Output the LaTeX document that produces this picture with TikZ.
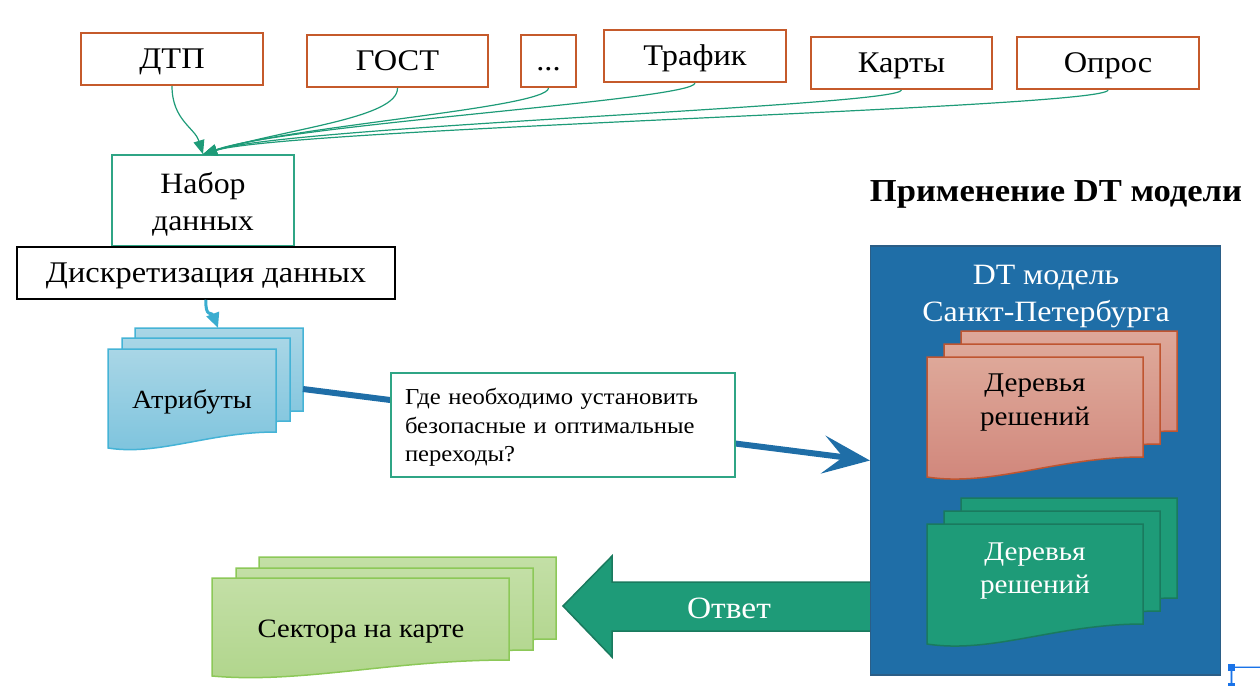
\documentclass[tikz,border=0pt]{standalone}
\usepackage{fontspec}
\setmainfont{Liberation Serif}[FakeStretch=1.08]
\usetikzlibrary{arrows.meta}
\definecolor{orng}{HTML}{C55A2B}
\definecolor{grn}{HTML}{1E9B78}
\definecolor{grnb}{HTML}{2FA585}
\definecolor{blu}{HTML}{1F6EA7}
\definecolor{bluedge}{HTML}{2B5E87}
\definecolor{cyanarr}{HTML}{3AADD0}
\definecolor{lbtop}{HTML}{A9D6E6}
\definecolor{lbbot}{HTML}{7CC3DD}
\definecolor{lbedge}{HTML}{45B3D6}
\definecolor{rdtop}{HTML}{DEA899}
\definecolor{rdbot}{HTML}{D0857A}
\definecolor{rdedge}{HTML}{BF5530}
\definecolor{gdedge}{HTML}{1A7A5E}
\definecolor{lgtop}{HTML}{C3DFA6}
\definecolor{lgbot}{HTML}{B0D58B}
\definecolor{lgedge}{HTML}{8CC858}
\definecolor{selblue}{HTML}{1A73E8}
\newcommand{\docsheet}[6]{\path[#6] (#1,#2) -- ({#1+#3},#2) -- ({#1+#3},{#2+#4}) .. controls ({#1+0.6*#3},{#2+#4}) and ({#1+0.3*#3},{#2+#4+1.5*#5}) .. (#1,{#2+#4+#5}) -- cycle;}
\tikzset{
  capc/.style={text height=#1, text depth=0pt},
  srcbox/.style={draw=orng, line width=2, minimum height=52, capc=19.8pt, font=\fontsize{30}{36}\selectfont},
  feed/.style={grn, line width=1.2, -{Triangle[length=14pt,width=11pt]}},
  attrsheet/.style={draw=lbedge, line width=1.5, top color=lbtop, bottom color=lbbot},
  redsheet/.style={draw=rdedge, line width=1.5, top color=rdtop, bottom color=rdbot},
  grnsheet/.style={draw=gdedge, line width=1.5, fill=grn},
  lgsheet/.style={draw=lgedge, line width=1.5, top color=lgtop, bottom color=lgbot},
  lbl/.style={align=center, inner sep=0},
}
\begin{document}
\begin{tikzpicture}[x=1pt,y=-1pt]
\useasboundingbox (0,0) rectangle (1260,686);
% source boxes
\node[srcbox, minimum width=182] (dtp) at (172,59) {ДТП};
\node[srcbox, minimum width=181] (gost) at (397.5,61) {ГОСТ};
\node[srcbox, minimum width=55] (dots) at (548.5,61) {...};
\node[srcbox, minimum width=182] (traf) at (695,56) {Трафик};
\node[srcbox, minimum width=181] (kart) at (901.5,63) {Карты};
\node[srcbox, minimum width=182] (opr) at (1108,63) {Опрос};
% dataset
\node[draw=grnb, line width=1.5, minimum width=182, minimum height=91] (nabor) at (203,200.5) {};
\node[lbl, font=\fontsize{29.5}{37.7}\selectfont] (nabortxt) at (203,204.6) {\strut Набор\\\strut данных};
\node[draw=black, line width=1.5, minimum width=378, minimum height=52, capc=19.8pt,
  font=\fontsize{30}{36}\selectfont] (disc) at (206,273) {Дискретизация данных};
% feeds
\draw[feed] (dtp.south) .. controls (172,120) and (195,128) .. (nabor.north);
\draw[feed] (gost.south) .. controls (398,118) and (290,128) .. (nabor.north);
\draw[feed] (dots.south) .. controls (548,108) and (290,126) .. (nabor.north);
\draw[feed] (traf.south) .. controls (695,100) and (290,124) .. (nabor.north);
\draw[feed] (kart.south) .. controls (901,106) and (290,126) .. (nabor.north);
\draw[feed] (opr.south) .. controls (1108,108) and (290,128) .. (nabor.north);
% attributes stack
\docsheet{135}{328}{168}{83}{16}{attrsheet}
\docsheet{122}{338}{168}{83}{16}{attrsheet}
\docsheet{108}{349}{168}{83}{16}{attrsheet}
\node[lbl, capc=17.3pt, font=\fontsize{26.2}{30}\selectfont] (attr) at (192,400) {Атрибуты};
\coordinate (attrtop) at (218,328);
\coordinate (attrE) at (303,389);
\draw[cyanarr, line width=3, -{Triangle[length=15pt,width=13pt]}] (disc.south) .. controls (205,318) and (212,312) .. (attrtop);
% title
\node[lbl, capc=21.1pt, font=\bfseries\fontsize{32}{38}\selectfont] (title) at (1056,190.7) {Применение DT модели};
% DT model box
\node[draw=bluedge, line width=1.5, fill=blu, minimum width=350, minimum height=429] (dtbox) at (1045.7,460.5) {};
\node[lbl, white, font=\fontsize{29.5}{37.5}\selectfont] (dttitle) at (1046,295.3) {\strut DT модель\\\strut Санкт-Петербурга};
\docsheet{961}{331}{216}{100}{20}{redsheet}
\docsheet{944}{344}{216}{100}{20}{redsheet}
\docsheet{927}{357}{216}{100}{20}{redsheet}
\node[lbl, font=\fontsize{27}{33.3}\selectfont] (redtxt) at (1035,401.7) {\strut Деревья\\\strut решений};
\docsheet{961}{498}{216}{100}{20}{grnsheet}
\docsheet{944}{511}{216}{100}{20}{grnsheet}
\docsheet{927}{524}{216}{100}{20}{grnsheet}
\node[lbl, white, font=\fontsize{27}{33.3}\selectfont] (grntxt) at (1035,570) {\strut Деревья\\\strut решений};
% thick connector
\draw[blu, line width=6, -{Stealth[length=47pt,width=38pt,inset=20pt]}] (attrE) -- (dtbox.west);
\node[draw=grnb, fill=white, line width=1.5, minimum width=344, minimum height=104] (q) at (563,425) {};
\node[inner sep=0, text width=318, align=left, font=\fontsize{22.8}{28.3}\selectfont] (qtxt) at (564,427.6)
  {\strut Где необходимо установить\\безопасные и оптимальные\\\strut переходы?};
% answer arrow
\path[draw=gdedge, line width=1.5, fill=grn] (dtbox.west |- 0,582) -- (612,582) -- (612,556) -- (563,606) -- (612,657) -- (612,631) -- (dtbox.west |- 0,631);
\node[lbl, capc=20.5pt, white, font=\fontsize{31}{36}\selectfont] (otv) at (729,608) {Ответ};
% sectors stack
\docsheet{259}{557}{297}{82}{16}{lgsheet}
\docsheet{236}{568}{297}{82}{16}{lgsheet}
\docsheet{212}{578}{297}{82}{16}{lgsheet}
\node[lbl, capc=17.5pt, font=\fontsize{26.5}{30}\selectfont] (sect) at (361,628.5) {Сектора на карте};
% selection handle marks
\draw[selblue!40, line width=2.5] (1235,667) -- (1260,667);
\draw[selblue, line width=0.8] (1235,667) -- (1260,667);
\draw[selblue!40, line width=2.5] (1231.5,671) -- (1231.5,683);
\draw[selblue, line width=0.8] (1231.5,671) -- (1231.5,683);
\fill[selblue] (1228,664) rectangle (1235,671);
\fill[selblue] (1228,683) rectangle (1235,686);
\end{tikzpicture}
\end{document}
